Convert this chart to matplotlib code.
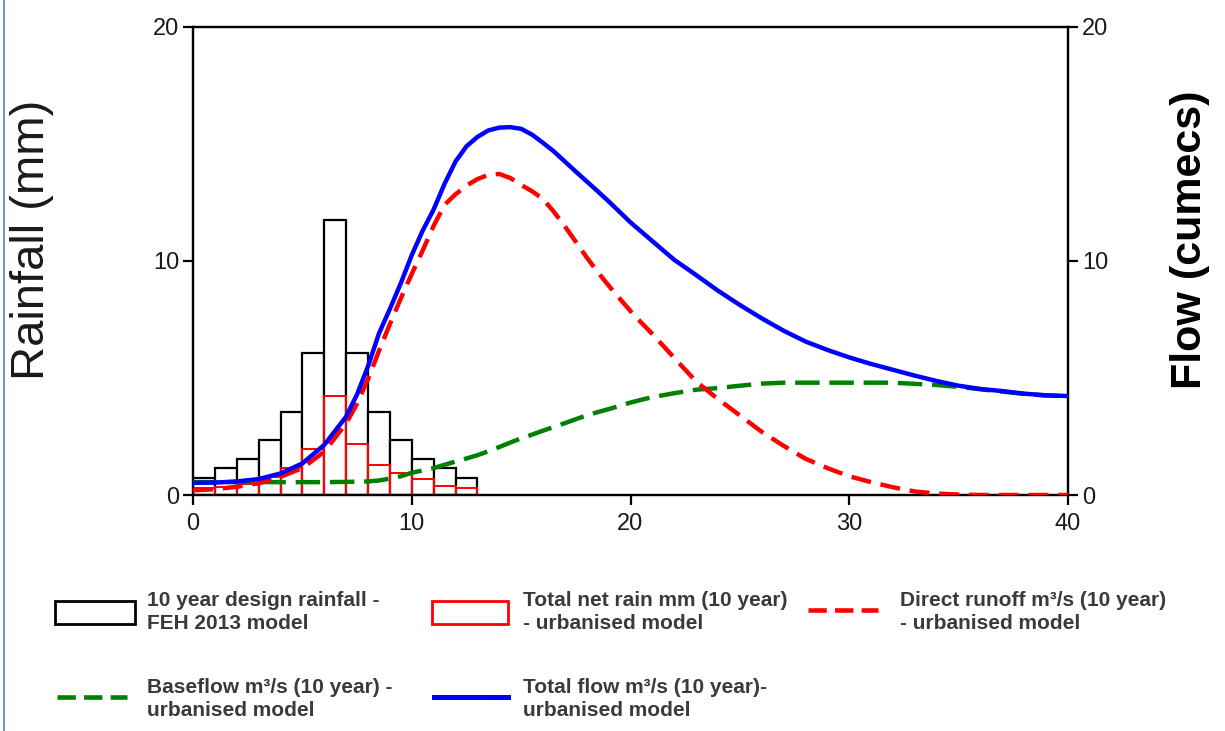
import matplotlib
matplotlib.use("Agg")
import matplotlib.pyplot as plt
from matplotlib.lines import Line2D
from matplotlib.patches import Patch

plt.rcParams['font.family'] = ['Liberation Sans', 'DejaVu Sans']

# ---- data ----
bin_left = [0, 1, 2, 3, 4, 5, 6, 7, 8, 9, 10, 11, 12]
design_rain = [0.74, 1.17, 1.54, 2.35, 3.56, 6.05, 11.75, 6.05, 3.56, 2.35, 1.54, 1.17, 0.74]
net_rain = [0.3, 0.35, 0.47, 0.78, 1.15, 1.97, 4.23, 2.2, 1.28, 0.93, 0.67, 0.38, 0.28]

t = [0, 1, 2, 3, 4, 5, 6, 7,
     7.5, 8, 8.5, 9, 9.5, 10, 10.5, 11, 11.5, 12, 12.5, 13, 13.5, 14,
     14.5, 15, 15.5, 16, 16.5, 17, 17.5, 18, 18.5, 19, 19.5, 20, 20.5, 21,
     22, 23, 24, 25, 26, 27, 28, 29, 30, 31, 32, 33, 34, 35, 36, 37, 38, 39, 40]
total_flow = [0.52, 0.53, 0.58, 0.68, 0.92, 1.35, 2.14, 3.35,
              4.3, 5.5, 6.9, 7.95, 9.05, 10.25, 11.3, 12.2, 13.3, 14.25, 14.9, 15.3, 15.58, 15.7,
              15.72, 15.65, 15.4, 15.05, 14.68, 14.25, 13.82, 13.4, 12.98, 12.55, 12.1, 11.65, 11.25, 10.85,
              10.05, 9.4, 8.73, 8.12, 7.55, 7.02, 6.56, 6.2, 5.88, 5.6, 5.35, 5.1, 4.87, 4.67, 4.53, 4.44, 4.33, 4.26, 4.23]
direct_runoff = [0.2, 0.25, 0.35, 0.5, 0.78, 1.15, 1.85, 3.06,
                 3.9, 4.95, 6.15, 7.3, 8.4, 9.45, 10.45, 11.5, 12.4, 12.85, 13.22, 13.5, 13.68, 13.72,
                 13.55, 13.25, 12.98, 12.65, 12.1, 11.48, 10.82, 10.15, 9.53, 8.95, 8.4, 7.86, 7.36, 6.88,
                 5.86, 4.85, 4.1, 3.4, 2.7, 2.1, 1.55, 1.15, 0.8, 0.55, 0.33, 0.15, 0.06, 0.02, 0.0, 0.0, 0.0, 0.0, 0.0]
baseflow = [0.55, 0.55, 0.55, 0.55, 0.55, 0.55, 0.55, 0.56,
            0.57, 0.58, 0.62, 0.7, 0.8, 0.95, 1.05, 1.15, 1.29, 1.43, 1.56, 1.7, 1.87, 2.05,
            2.24, 2.42, 2.58, 2.75, 2.91, 3.07, 3.24, 3.4, 3.54, 3.67, 3.81, 3.95, 4.07, 4.18,
            4.35, 4.5, 4.57, 4.67, 4.76, 4.8, 4.8, 4.8, 4.8, 4.8, 4.8, 4.75, 4.7, 4.62, 4.52, 4.42, 4.32, 4.25, 4.22]

xticks = [0, 10, 20, 30, 40]
yticks = [0, 10, 20]

labels = ["10 year design rainfall -\nFEH 2013 model",
          "Total net rain mm (10 year)\n- urbanised model",
          "Direct runoff m\u00b3/s (10 year)\n- urbanised model",
          "Baseflow m\u00b3/s (10 year) -\nurbanised model",
          "Total flow m\u00b3/s (10 year)-\nurbanised model"]

W, H = 1225, 731
fig = plt.figure(figsize=(W / 100, H / 100), dpi=100)
L, R, B, T = 193, 1068, 495, 27
ax = fig.add_axes([L / W, 1 - B / H, (R - L) / W, (B - T) / H])
ax2 = ax.twinx()

tick_col = '#1a1a1a'
ax.bar(bin_left, design_rain, width=1, align='edge', facecolor='white',
       edgecolor='black', linewidth=1.6, zorder=2)
ax.bar(bin_left, net_rain, width=1, align='edge', facecolor='none',
       edgecolor='#ff0000', linewidth=1.4, zorder=3)

ax2.plot(t, baseflow, color='#008000', linewidth=3.2, dashes=(5.5, 2.2), zorder=3)
ax2.plot(t, direct_runoff, color='#ff0000', linewidth=3.2, dashes=(4.5, 2.2), zorder=4)
ax2.plot(t, total_flow, color='#0000ff', linewidth=3.2, zorder=5)

for a in (ax, ax2):
    a.set_xlim(0, 40)
    a.set_ylim(0, 20)
    a.set_yticks(yticks)
    for s in a.spines.values():
        s.set_linewidth(1.6)
        s.set_color('black')
    a.tick_params(direction='out', length=7, width=1.6, labelsize=17,
                  labelcolor=tick_col, pad=3)
ax.set_xticks(xticks)
ax.tick_params(axis='x', pad=6)

ax.set_ylabel("Rainfall (mm)", fontsize=34, color='#1a1a1a', va='center')
ax.yaxis.set_label_coords((32 - L) / (R - L), (B - 240) / (B - T))
ax2.set_ylabel("Flow (cumecs)", fontsize=31, fontweight='bold', color='black',
               rotation=90, va='center')
ax2.yaxis.set_label_coords((1190 - L) / (R - L), (B - 240) / (B - T))

# ---- legend (one legend per entry, placed like the reference) ----
fs = 15
h_rain = Patch(facecolor='white', edgecolor='black', linewidth=2)
h_net = Patch(facecolor='white', edgecolor='#ff0000', linewidth=2)
h_dir = Line2D([], [], color='#ff0000', linewidth=3.3, dashes=(4, 1.8))
h_base = Line2D([], [], color='#008000', linewidth=3.3, dashes=(4, 1.8))
h_tot = Line2D([], [], color='#0000ff', linewidth=3.6)

entries = [(h_rain, labels[0], 55, 612, 80, 12),
           (h_net, labels[1], 432, 612, 76, 15),
           (h_dir, labels[2], 808, 612, 70, 22),
           (h_base, labels[3], 57, 699, 70, 20),
           (h_tot, labels[4], 434, 699, 74, 15)]
fs_px = fs * 100 / 72
for h, lab, x0, yc, hl, gap in entries:
    leg = fig.legend([h], [lab], loc='center left',
                     bbox_to_anchor=(x0 / W, 1 - yc / H),
                     frameon=False, borderpad=0, borderaxespad=0,
                     handlelength=hl / fs_px, handleheight=27 / fs_px,
                     handletextpad=gap / fs_px,
                     prop={'weight': 'bold', 'size': fs})
    for txt in leg.get_texts():
        txt.set_color('#3a3a3a')
        txt.set_linespacing(1.25)

# thin blue frame line at the left edge of the screenshot
fig.add_artist(Line2D([4 / W, 4 / W], [0, 1], transform=fig.transFigure,
                      color='#4f7fd0', linewidth=1.2))

fig.savefig("out.png", dpi=100)
